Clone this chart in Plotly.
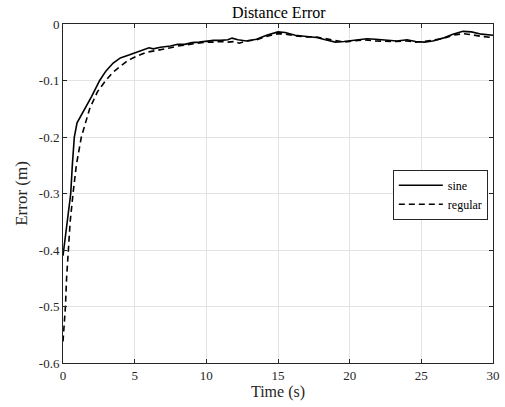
import plotly.graph_objects as go

sine_t = [0, 0.2, 0.4, 0.54, 0.65, 0.79, 0.98, 1.5, 2.0, 2.56, 3.0, 3.5, 4.0, 4.6, 5.1, 5.6, 6.0, 6.3, 6.8,
          7.5, 8.0, 8.5, 9.0, 9.5, 10, 10.5, 11, 11.5, 11.8, 12.2, 12.8, 13.5, 14.2, 15.0, 15.5, 16.2, 17.0,
          17.7, 18.3, 19.0, 19.6, 20.3, 21.2, 21.8, 22.5, 23.3, 24.0, 24.6, 25.2, 25.8, 26.5, 27.2, 27.9,
          28.5, 29.2, 30]
sine_err = [-0.41, -0.37, -0.33, -0.30, -0.25, -0.20, -0.175, -0.152, -0.128, -0.10, -0.083, -0.069, -0.060,
            -0.055, -0.050, -0.046, -0.042, -0.044, -0.041, -0.039, -0.036, -0.036, -0.033, -0.032, -0.030,
            -0.029, -0.029, -0.028, -0.025, -0.028, -0.030, -0.027, -0.020, -0.014, -0.015, -0.020, -0.022,
            -0.024, -0.028, -0.032, -0.031, -0.029, -0.026, -0.027, -0.029, -0.030, -0.028, -0.031, -0.032,
            -0.030, -0.025, -0.018, -0.013, -0.014, -0.018, -0.020]

regular_t = [0, 0.1, 0.17, 0.25, 0.35, 0.5, 0.7, 0.93, 1.28, 1.86, 2.4, 2.98, 3.5, 3.96, 4.4, 4.88, 5.3, 5.8,
             6.5, 7.0, 7.5, 8.0, 8.5, 9.0, 9.5, 10, 10.5, 11, 11.5, 12.0, 12.3, 12.8, 13.5, 14.2, 15.0, 15.5,
             16.2, 17.0, 17.7, 18.3, 19.0, 19.6, 20.3, 21.0, 21.8, 22.5, 23.3, 24.0, 24.6, 25.2, 25.8, 26.5,
             27.2, 27.9, 28.5, 29.2, 30]
regular_err = [-0.562, -0.53, -0.50, -0.45, -0.40, -0.35, -0.30, -0.25, -0.20, -0.15, -0.12, -0.10, -0.085,
               -0.075, -0.067, -0.060, -0.055, -0.050, -0.047, -0.045, -0.042, -0.039, -0.037, -0.035, -0.033,
               -0.032, -0.032, -0.031, -0.032, -0.031, -0.034, -0.030, -0.028, -0.022, -0.017, -0.018, -0.021,
               -0.023, -0.023, -0.026, -0.030, -0.032, -0.030, -0.028, -0.030, -0.031, -0.031, -0.030, -0.032,
               -0.031, -0.029, -0.026, -0.020, -0.017, -0.019, -0.022, -0.024]

x_ticks = [0, 5, 10, 15, 20, 25, 30]
y_ticks = [0, -0.1, -0.2, -0.3, -0.4, -0.5, -0.6]
y_tick_labels = ["0", "-0.1", "-0.2", "-0.3", "-0.4", "-0.5", "-0.6"]

FONT = "Times New Roman, Liberation Serif, DejaVu Serif, serif"

fig = go.Figure()
fig.add_trace(go.Scatter(x=sine_t, y=sine_err, mode="lines", name="sine",
                         line=dict(color="black", width=1.6)))
fig.add_trace(go.Scatter(x=regular_t, y=regular_err, mode="lines", name="regular",
                         line=dict(color="black", width=1.6, dash="6px,4px")))

axis_common = dict(showline=True, linecolor="#262626", linewidth=1, mirror="ticks",
                   ticks="inside", ticklen=4, tickcolor="#262626", automargin=False,
                   showgrid=True, gridcolor="#e3e3e3", gridwidth=1, zeroline=False,
                   tickfont=dict(family=FONT, size=13, color="#262626"))

fig.update_layout(
    width=505, height=407,
    margin=dict(l=63, r=12, t=24, b=44),
    paper_bgcolor="white", plot_bgcolor="white",
    font=dict(family=FONT, color="#262626"),
    title=dict(text="Distance Error", x=0.552, xanchor="center", y=0.97, yanchor="middle",
               font=dict(family=FONT, size=16, color="black")),
    xaxis=dict(range=[0, 30], tickvals=x_ticks,
               title=dict(text="Time (s)", font=dict(family=FONT, size=16, color="#262626"), standoff=3),
               **axis_common),
    yaxis=dict(range=[-0.6, 0], tickvals=y_ticks, ticktext=y_tick_labels,
               title=dict(text="Error (m)", font=dict(family=FONT, size=17, color="#262626"), standoff=6),
               **axis_common),
    legend=dict(x=0.767, y=0.57, xanchor="left", yanchor="top",
                bgcolor="white", bordercolor="#262626", borderwidth=1,
                font=dict(family=FONT, size=12, color="black"),
                tracegroupgap=0, itemwidth=44),
    showlegend=True,
)

fig.write_html("out.html", config={"displayModeBar": False},
               post_script="document.body.style.margin='0';document.body.style.padding='0';"
                           "document.body.style.overflow='hidden';")
